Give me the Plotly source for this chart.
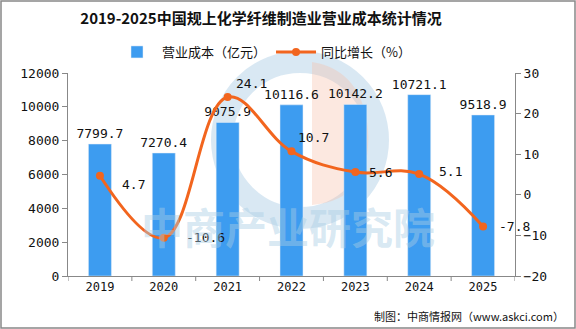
import plotly.graph_objects as go

years = ["2019", "2020", "2021", "2022", "2023", "2024", "2025"]
cost = [7799.7, 7270.4, 9075.9, 10116.6, 10142.2, 10721.1, 9518.9]
growth = [4.7, -10.6, 24.1, 10.7, 5.6, 5.1, -7.8]
growth_labels = ["4.7", "-10.6", "24.1", "10.7", "5.6", "5.1", "-7.8"]

W, H = 576, 329
L, R, T, B = 68, 61, 73, 53
PW, PH = W - L - R, H - T - B
font_num = "DejaVu Sans Mono, Liberation Mono, monospace"
font_cjk = "Noto Sans CJK SC, Noto Sans, sans-serif"

idx = list(range(len(years)))

fig = go.Figure()

# faint logo watermark (behind)
cx, cy, rr = 300, 140, 78
fig.add_shape(type="circle", xref="paper", yref="paper", layer="below",
              x0=(cx - rr - L) / PW, x1=(cx + rr - L) / PW,
              y0=(H - B - (cy + rr)) / PH, y1=(H - B - (cy - rr)) / PH,
              line=dict(color="rgba(170,205,228,0.45)", width=22), fillcolor="rgba(0,0,0,0)")
fig.add_shape(type="path", xref="paper", yref="paper", layer="below",
              path=f"M {(312 - L) / PW},{(H - B - 62) / PH} L {(312 - L) / PW},{(H - B - 205) / PH} "
                   f"Q {(372 - L) / PW},{(H - B - 200) / PH} {(368 - L) / PW},{(H - B - 130) / PH} "
                   f"Q {(362 - L) / PW},{(H - B - 70) / PH} {(312 - L) / PW},{(H - B - 62) / PH} Z",
              line=dict(width=0), fillcolor="rgba(245,190,165,0.35)")

fig.add_trace(go.Bar(
    x=idx, y=cost, name="营业成本（亿元）",
    marker_color="#3D9CF0",
    text=[f"{v:.1f}" for v in cost], textposition="outside", constraintext="none",
    textfont=dict(family=font_num, size=13, color="#111"),
    cliponaxis=False, width=0.36,
))
fig.add_trace(go.Scatter(
    x=idx, y=growth, name="同比增长（%）", yaxis="y2",
    mode="lines+markers",
    line=dict(color="#F2651E", width=3, shape="spline", smoothing=1.1),
    marker=dict(size=8, color="#F2651E"),
))

# line value labels
shifts = [(20, -9), (20, 0), (6, 13), (4, 14), (12, 0), (18, 3), (14, 0)]
for x, y, t, (dx, dy) in zip(idx, growth, growth_labels, shifts):
    fig.add_annotation(x=x, y=y, xref="x", yref="y2", text=t, showarrow=False,
                       xanchor="left", xshift=dx, yshift=dy,
                       font=dict(family=font_num, size=13, color="#111"))

# watermark text
fig.add_annotation(xref="paper", yref="paper", x=(288 - L) / PW, y=(276 - 258) / PH,
                   text="<b>中商产业研究院</b>", showarrow=False,
                   font=dict(family=font_cjk, size=42, color="rgba(170,205,228,0.45)"))

fig.add_annotation(xref="paper", yref="paper", x=(W - 10 - L) / PW, y=-(B - 13) / PH,
                   text="制图：中商情报网（www.askci.com）", showarrow=False,
                   xanchor="right", yanchor="middle",
                   font=dict(family=font_cjk, size=11, color="#111"))

fig.add_shape(type="rect", xref="paper", yref="paper",
              x0=-(L - 1) / PW, x1=(W - L - 1) / PW,
              y0=-(B - 1) / PH, y1=(H - B - 1) / PH,
              line=dict(color="#888", width=1.5), fillcolor="rgba(0,0,0,0)")

# category boundary ticks
for b in [i + 0.5 for i in range(-1, len(years))]:
    fig.add_shape(type="line", xref="x", yref="paper", x0=b, x1=b, y0=0, y1=-5 / PH,
                  line=dict(color="#888", width=1))

fig.update_layout(
    width=W, height=H,
    margin=dict(l=L, r=R, t=T, b=B),
    paper_bgcolor="white", plot_bgcolor="white",
    title=dict(text="<b>2019-2025中国规上化学纤维制造业营业成本统计情况</b>",
               x=261 / W, xanchor="center", y=1 - 19 / H, yanchor="middle",
               font=dict(family=font_cjk, size=15, color="#111")),
    legend=dict(orientation="h", x=(264 - L) / PW, xanchor="center", y=1 + 21 / PH, yanchor="middle",
                font=dict(family=font_cjk, size=13, color="#111"), bgcolor="rgba(0,0,0,0)",
                itemwidth=40),
    showlegend=True,
    xaxis=dict(range=[-0.5, len(years) - 0.5], tickmode="array", tickvals=idx, ticktext=years,
               showline=True, linecolor="#888", ticks="", showgrid=False, zeroline=False,
               tickfont=dict(family=font_num, size=12, color="#111")),
    yaxis=dict(range=[0, 12000], dtick=2000, showgrid=False, showline=True, linecolor="#888",
               ticks="outside", ticklen=5, tickcolor="#888", zeroline=False, tickformat="d",
               tickfont=dict(family=font_num, size=13, color="#111")),
    yaxis2=dict(range=[-20, 30], dtick=10, overlaying="y", side="right", showgrid=False,
                showline=True, linecolor="#888", ticks="outside", ticklen=5, tickcolor="#888",
                zeroline=False, tickfont=dict(family=font_num, size=13, color="#111")),
)

fig.write_html("out.html")
